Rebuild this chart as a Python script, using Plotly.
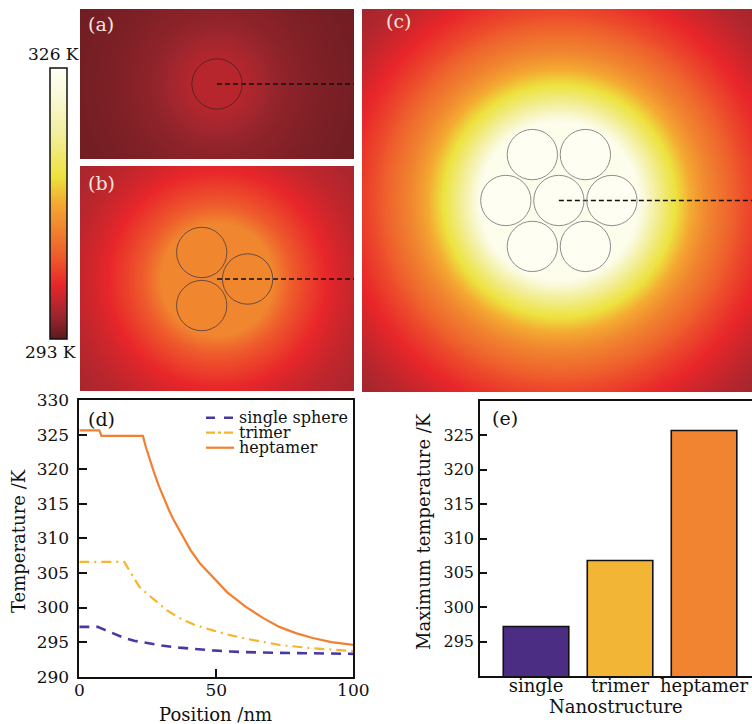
import numpy as np
import plotly.graph_objects as go

# ---------------- data ----------------
# radial temperature profiles along the dashed lines (panel d)
single_x = [0, 4, 6.7, 9.1, 12, 15.8, 20, 24.3, 30, 36.5, 42, 48.7, 55, 60.8, 73, 85, 100]
single_T = [297.2, 297.2, 297.2, 296.8, 296.3, 295.7, 295.2, 294.9, 294.5, 294.2, 294.0, 293.8,
            293.65, 293.55, 293.45, 293.35, 293.3]

trimer_x = [0, 16.4, 18.2, 21.9, 25, 28, 32, 36.5, 42, 48.7, 55, 60.8, 67, 73, 85.2, 100]
trimer_T = [306.6, 306.6, 305.4, 303.0, 301.9, 300.9, 299.6, 298.5, 297.5, 296.7, 296.0, 295.5,
            295.0, 294.6, 294.1, 293.7]

heptamer_x = [0, 7.3, 8.1, 23.2, 24.3, 25.4, 27.2, 29.1, 30.9, 32.7, 34.5, 36.4, 38.3, 40.6,
              44, 48.6, 54, 60.8, 67, 73, 79, 85.2, 92, 100]
heptamer_T = [325.6, 325.6, 324.8, 324.8, 323.2, 321.8, 319.6, 317.5, 315.7, 314.1, 312.6,
              311.2, 309.8, 308.3, 306.4, 304.5, 302.2, 300.1, 298.5, 297.2, 296.3, 295.6,
              295.0, 294.6]

# panel e
bar_categories = ["single", "trimer", "heptamer"]
bar_values = [297.2, 306.8, 325.7]

# colour range of the maps
T_MIN, T_MAX = 293, 326

# particle geometry (nm)
R_P = 7.4
single_centers = [(0.0, 0.0)]
trimer_centers = [(-4.5, 7.8), (-4.5, -7.8), (9.0, 0.0)]
heptamer_centers = [(0.0, 0.0), (15.6, 0.0), (-15.6, 0.0), (7.8, 13.5), (-7.8, 13.5),
                    (7.8, -13.5), (-7.8, -13.5)]

# ---------------- helpers ----------------
W, H = 752, 724


def PX(p):
    return p / W


def PY(p):
    return 1 - p / H


def field(centers, prof_x, prof_T, xr, yr, step=0.4):
    """Temperature map built from the radial profile (distance from the structure centre)."""
    xs = np.arange(xr[0], xr[1] + step, step)
    ys = np.arange(yr[0], yr[1] + step, step)
    X, Y = np.meshgrid(xs, ys)
    r = np.hypot(X, Y)
    Z = np.interp(r, prof_x, prof_T)
    for cx, cy in centers:
        inside = np.hypot(X - cx, Y - cy) <= R_P
        Z[inside] = np.maximum(Z[inside], prof_T[1])
    return np.round(xs, 2), np.round(ys, 2), np.round(Z, 2)


colorscale = [
    [0.0, "#5C1A1E"], [0.09, "#A0262E"], [0.2, "#E8262A"], [0.3, "#EE5A2C"],
    [0.4, "#F0822F"], [0.5, "#F4A932"], [0.6, "#EDE23F"], [0.75, "#F2EE98"],
    [0.9, "#FAF9DA"], [1.0, "#FFFFF6"],
]

FONT = "DejaVu Serif"

# panel extents (nm) -- 3.4 px per nm
ra_x, ra_y = (-40.3, 40.3), (-22.06, 22.06)
rb_x, rb_y = (-40.3, 40.3), (-32.9, 33.2)
rc_x, rc_y = (-57.9, 56.8), (-56.3, 56.3)

fig = go.Figure()

panels = [
    ("x", "y", single_centers, single_x, single_T, ra_x, ra_y, "#5a2424"),
    ("x2", "y2", trimer_centers, trimer_x, trimer_T, rb_x, rb_y, "#6a4a3e"),
    ("x3", "y3", heptamer_centers, heptamer_x, heptamer_T, rc_x, rc_y, "#8c8c8c"),
]
shapes = []
for i, (xa, ya, cen, pxs, pts, xr, yr, ccol) in enumerate(panels):
    xs, ys, Z = field(cen, pxs, pts, xr, yr)
    fig.add_trace(go.Heatmap(x=xs, y=ys, z=Z, coloraxis="coloraxis", xaxis=xa, yaxis=ya,
                             zsmooth="best", hoverinfo="skip"))
    fig.add_trace(go.Scatter(x=[0, xr[1]], y=[0, 0], mode="lines", xaxis=xa, yaxis=ya,
                             line=dict(color="#111111", width=1.5, dash="5px,3px"),
                             showlegend=False, hoverinfo="skip"))
    for cx, cy in cen:
        shapes.append(dict(type="circle", xref=xa, yref=ya, x0=cx - R_P, x1=cx + R_P,
                           y0=cy - R_P, y1=cy + R_P, line=dict(color=ccol, width=1)))

# ---------------- panel d ----------------
fig.add_trace(go.Scatter(x=single_x, y=single_T, mode="lines", xaxis="x4", yaxis="y4",
                         line=dict(color="#4A38A2", width=2.6, dash="10px,7px"),
                         showlegend=False))
fig.add_trace(go.Scatter(x=trimer_x, y=trimer_T, mode="lines", xaxis="x4", yaxis="y4",
                         line=dict(color="#F7B52B", width=2.2, dash="10px,5px,2px,5px"),
                         showlegend=False))
fig.add_trace(go.Scatter(x=heptamer_x, y=heptamer_T, mode="lines", xaxis="x4", yaxis="y4",
                         line=dict(color="#F28030", width=2.2), showlegend=False))

# ---------------- panel e ----------------
fig.add_trace(go.Bar(x=bar_categories, y=bar_values, xaxis="x5", yaxis="y5", width=0.78,
                     marker=dict(color=["#4B2D84", "#F3B536", "#F08431"],
                                 line=dict(color="#111111", width=1.6)),
                     showlegend=False))

hidden = dict(visible=False, showgrid=False, zeroline=False, fixedrange=True)
layout = dict(
    width=W, height=H, margin=dict(l=0, r=0, t=0, b=0, autoexpand=False),
    paper_bgcolor="white", plot_bgcolor="white", showlegend=False,
    font=dict(family=FONT, color="#111111", size=16),
    coloraxis=dict(colorscale=colorscale, cmin=T_MIN, cmax=T_MAX,
                   colorbar=dict(x=PX(50), xanchor="left", y=PY(68), yanchor="top",
                                 len=271, lenmode="pixels", thickness=17,
                                 thicknessmode="pixels", outlinewidth=1.5,
                                 outlinecolor="#111111", showticklabels=False, ticks="",
                                 xpad=0, ypad=0)),
    xaxis=dict(domain=[PX(80), PX(354)], range=list(ra_x), anchor="y", **hidden),
    yaxis=dict(domain=[PY(159), PY(9)], range=list(ra_y), anchor="x", **hidden),
    xaxis2=dict(domain=[PX(80), PX(354)], range=list(rb_x), anchor="y2", **hidden),
    yaxis2=dict(domain=[PY(391), PY(166)], range=list(rb_y), anchor="x2", **hidden),
    xaxis3=dict(domain=[PX(362), 1.0], range=list(rc_x), anchor="y3", **hidden),
    yaxis3=dict(domain=[PY(392), PY(9)], range=list(rc_y), anchor="x3", **hidden),
    xaxis4=dict(domain=[PX(79.3), PX(353.3)], range=[0, 100], anchor="y4",
                tickvals=[0, 50, 100], ticks="inside", ticklen=8, tickwidth=1.6,
                tickcolor="#111111", showline=True, linecolor="#111111", linewidth=1.6,
                mirror=True, showgrid=False, zeroline=False, tickfont=dict(size=17),
                ticklabelstandoff=-3),
    yaxis4=dict(domain=[PY(676.7), PY(400)], range=[290, 330], anchor="x4",
                tickvals=[290, 295, 300, 305, 310, 315, 320, 325, 330], ticks="inside",
                ticklen=8, tickwidth=1.6, tickcolor="#111111", showline=True,
                linecolor="#111111", linewidth=1.6, mirror=True, showgrid=False,
                zeroline=False, tickfont=dict(size=17), ticklabelstandoff=5),
    xaxis5=dict(domain=[PX(480), 1.0], range=[-0.667, 2.571], anchor="y5", type="category",
                ticks="", ticklen=0, showline=True, linecolor="#111111", linewidth=1.6,
                mirror=True, showgrid=False, zeroline=False, tickfont=dict(size=18),
                ticklabelstandoff=-7),
    yaxis5=dict(domain=[PY(676), PY(401)], range=[290, 330], anchor="x5",
                tickvals=[295, 300, 305, 310, 315, 320, 325], ticks="inside", ticklen=7,
                tickwidth=1.6, tickcolor="#111111", showline=True, linecolor="#111111",
                linewidth=1.6, mirror=False, showgrid=False, zeroline=False,
                tickfont=dict(size=16), ticklabelstandoff=1),
)

# legend of panel d (drawn manually)
leg = [("single sphere", "#4A38A2", 2.6, "dash", 417.7),
       ("trimer", "#F7B52B", 2.2, "dashdot", 432.7),
       ("heptamer", "#F28030", 2.2, "solid", 447.7)]
for name, col, lw, dsh, yy in leg:
    shapes.append(dict(type="line", xref="paper", yref="paper", x0=PX(206), x1=PX(234),
                       y0=PY(yy), y1=PY(yy), line=dict(color=col, width=lw, dash=dsh)))

ann = []


def text(t, x, y, size=16, color="#111111", xanchor="center", angle=0):
    ann.append(dict(text=t, x=PX(x), y=PY(y), xref="paper", yref="paper", showarrow=False,
                    xanchor=xanchor, yanchor="middle", textangle=angle,
                    font=dict(size=size, color=color, family=FONT)))


for name, col, lw, dsh, yy in leg:
    text(name, 237, yy, size=16, xanchor="left")

light = "#F6E4DD"
text("(a)", 86, 24, 19, light, "left")
text("(b)", 86, 183, 19, light, "left")
text("(c)", 384, 21, 19, light, "left")
text("(d)", 86, 419, 19, "#111111", "left")
text("(e)", 490, 418, 19, "#111111", "left")
text("326 K", 53, 54, 17)
text("293 K", 51, 352, 17)
text("Temperature /K", 18, 541, 18, angle=-90)
text("Position /nm", 215, 714, 18)
text("Maximum temperature /K", 423, 532, 18, angle=-90)
text("Nanostructure", 616, 706, 18)

layout["shapes"] = shapes
layout["annotations"] = ann
fig.update_layout(**layout)
fig.write_html("out.html")
